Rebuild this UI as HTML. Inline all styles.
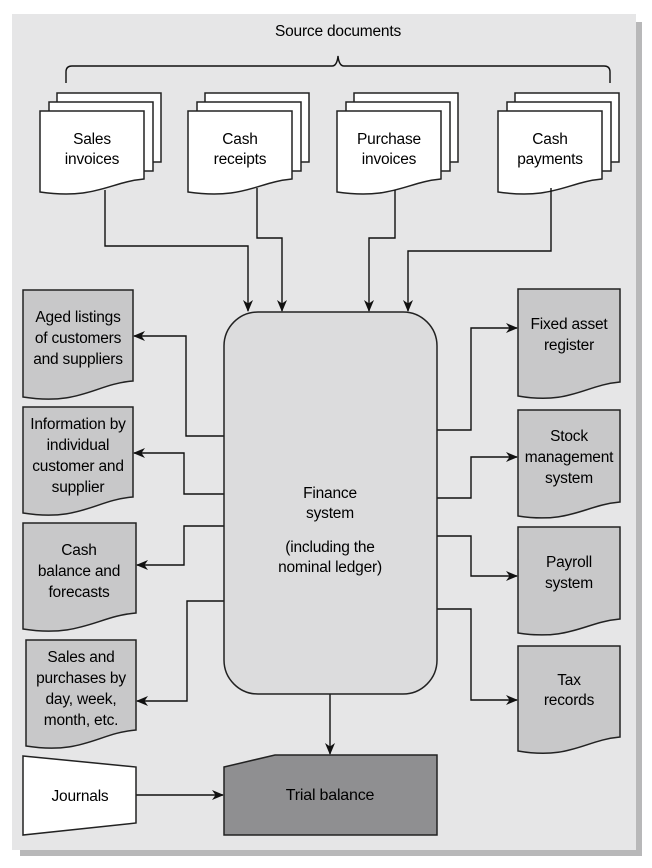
<!DOCTYPE html>
<html><head><meta charset="utf-8"><style>
html,body{margin:0;padding:0;background:#fff;}
svg{display:block;}
text{font-family:"Liberation Sans",sans-serif;font-size:15.5px;fill:#000;text-anchor:middle;letter-spacing:-0.2px;}
</style></head><body>
<svg width="652" height="868" viewBox="0 0 652 868" xmlns="http://www.w3.org/2000/svg">
<defs>
<marker id="ar" markerWidth="12" markerHeight="10" refX="11" refY="5" orient="auto" markerUnits="userSpaceOnUse">
<path d="M0,0 L12,5 L0,10 L3.5,5 Z" fill="#111"/>
</marker>
</defs>
<rect x="20" y="22" width="622" height="834" fill="#b8b8b9"/>
<rect x="12" y="14" width="624" height="836" fill="#e6e6e7"/>

<text x="338" y="36">Source documents</text>
<path d="M66,83 V72 Q66,66 72,66 H332 Q337,66 338,56 Q339,66 344,66 H604 Q610,66 610,72 V83" fill="none" stroke="#111" stroke-width="1.4"/>

<g stroke="#222" stroke-width="1.5" fill="#fff">
<g id="st">
<path d="M57,93 H161 V162 H57 Z"/>
<path d="M49,102 H153 V171 H49 Z"/>
<path d="M40,111 H144 V179 C110,182 95,200 40,192 Z"/>
</g>
<use href="#st" transform="translate(148,0)"/>
<use href="#st" transform="translate(297,0)"/>
<use href="#st" transform="translate(458,0)"/>
</g>
<text x="92" y="144">Sales</text><text x="92" y="164">invoices</text>
<text x="240" y="144">Cash</text><text x="240" y="164">receipts</text>
<text x="389" y="144">Purchase</text><text x="389" y="164">invoices</text>
<text x="550" y="144">Cash</text><text x="550" y="164">payments</text>

<g fill="none" stroke="#111" stroke-width="1.4" marker-end="url(#ar)">
<path d="M105,190 V246 H248 V311"/>
<path d="M257,188 V238 H282 V311"/>
<path d="M395,190 V238 H369 V311"/>
<path d="M551,188 V251 H408 V311"/>
<path d="M224,436 H186 V336 H134"/>
<path d="M224,494 H184 V453 H134"/>
<path d="M224,526 H184 V565 H137"/>
<path d="M224,601 H187 V701 H137"/>
<path d="M437,430 H471 V328 H517"/>
<path d="M437,498 H471 V457 H517"/>
<path d="M437,536 H471 V576 H517"/>
<path d="M437,609 H471 V700 H517"/>
<path d="M330,694 V754"/>
<path d="M136,795 H223"/>
</g>

<rect x="224" y="312" width="213" height="382" rx="34" fill="#dcdcdd" stroke="#222" stroke-width="1.5"/>
<text x="330" y="498">Finance</text><text x="330" y="518">system</text>
<text x="330" y="552">(including the</text><text x="330" y="572">nominal ledger)</text>

<g fill="#c8c8c9" stroke="#222" stroke-width="1.5">
<path d="M23,290 H133 V381 C95,384 80,406 23,397 Z"/>
<path d="M23,407 H133 V497 C95,500 80,522 23,513 Z"/>
<path d="M23,523 H136 V613 C98,616 80,638 23,629 Z"/>
<path d="M26,640 H136 V730 C98,733 83,755 26,746 Z"/>
<path d="M518,289 H620 V382 C585,385 570,405 518,396 Z"/>
<path d="M518,410 H620 V502 C585,505 570,524 518,516 Z"/>
<path d="M518,527 H620 V619 C585,622 570,641 518,633 Z"/>
<path d="M518,646 H620 V737 C585,740 570,760 518,751 Z"/>
</g>
<text x="78" y="322">Aged listings</text><text x="78" y="343">of customers</text><text x="78" y="364">and suppliers</text>
<text x="78" y="429">Information by</text><text x="78" y="450">individual</text><text x="78" y="471">customer and</text><text x="78" y="492">supplier</text>
<text x="79" y="555">Cash</text><text x="79" y="576">balance and</text><text x="79" y="597">forecasts</text>
<text x="81" y="662">Sales and</text><text x="81" y="683">purchases by</text><text x="81" y="704">day, week,</text><text x="81" y="725">month, etc.</text>
<text x="569" y="329">Fixed asset</text><text x="569" y="350">register</text>
<text x="569" y="441">Stock</text><text x="569" y="462">management</text><text x="569" y="483">system</text>
<text x="569" y="567">Payroll</text><text x="569" y="588">system</text>
<text x="569" y="685">Tax</text><text x="569" y="705">records</text>

<path d="M275,755 H437 V835 H224 V767 Z" fill="#8f8f91" stroke="#222" stroke-width="1.5"/>
<text x="330" y="800" style="font-size:16px">Trial balance</text>
<path d="M23,756 L136,767 V823 L23,835 Z" fill="#fff" stroke="#222" stroke-width="1.5"/>
<text x="80" y="801">Journals</text>
</svg>
</body></html>
